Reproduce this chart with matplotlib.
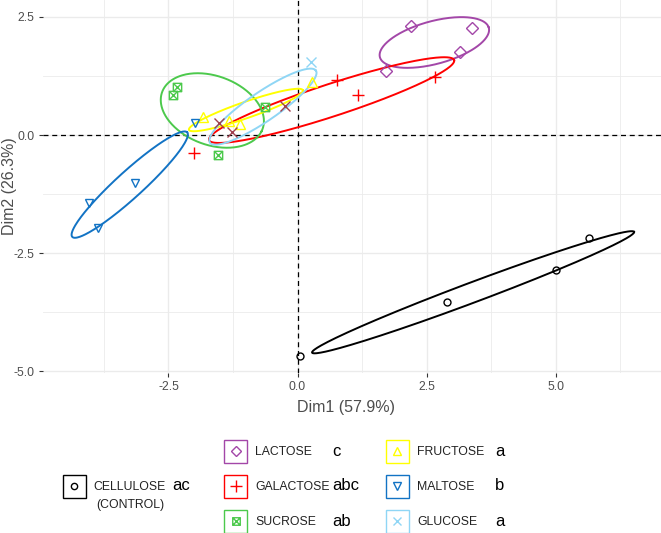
import numpy as np
import matplotlib.pyplot as plt
from matplotlib.patches import Rectangle
from matplotlib.path import Path

plt.rcParams["font.family"] = ["Liberation Sans", "DejaVu Sans"]
plt.rcParams["axes.unicode_minus"] = False

# groups and significance letters
groups  = ["CELLULOSE", "LACTOSE", "GALACTOSE", "SUCROSE", "FRUCTOSE", "MALTOSE", "GLUCOSE"]
letters = ["ac", "c", "abc", "ab", "a", "b", "a"]

# individual scores (Dim1, Dim2)
cellulose_x = [0.05, 2.90, 5.01, 5.65]
cellulose_y = [-4.68, -3.54, -2.86, -2.18]
lactose_x   = [2.20, 3.38, 3.15, 1.71]
lactose_y   = [2.31, 2.27, 1.76, 1.36]
galactose_x = [-2.01, 0.77, 1.17, 2.66]
galactose_y = [-0.38, 1.17, 0.85, 1.23]
sucrose_x   = [-2.34, -2.41, -1.54, -0.63]
sucrose_y   = [1.02, 0.85, -0.42, 0.59]
fructose_x  = [-1.83, -1.33, -1.11, 0.28]
fructose_y  = [0.38, 0.30, 0.23, 1.12]
maltose_x   = [-1.99, -3.15, -4.04, -3.87]
maltose_y   = [0.25, -1.02, -1.44, -1.97]
glucose_x   = [0.26, -0.24, -1.52, -1.27]
glucose_y   = [1.55, 0.61, 0.25, 0.06]

# confidence ellipses: centre, semi-axes, angle (deg) in data units
ell_cx  = [3.40, 2.65, 0.66, -1.65, -1.00, -3.25, -0.67]
ell_cy  = [-3.33, 1.96, 0.74, 0.52, 0.53, -1.05, 0.60]
ell_a   = [3.37, 1.10, 2.52, 1.05, 1.18, 1.57, 1.28]
ell_b   = [0.21, 0.45, 0.34, 0.72, 0.17, 0.27, 0.30]
ell_ang = [22.3, 17.0, 19.7, -25.0, 20.9, 45.0, 37.0]

xs = [cellulose_x, lactose_x, galactose_x, sucrose_x, fructose_x, maltose_x, glucose_x]
ys = [cellulose_y, lactose_y, galactose_y, sucrose_y, fructose_y, maltose_y, glucose_y]

colors = ["black", "#a347a8", "#ff0000", "#4cc94c", "#ffff00", "#1273c4", "#8fd6f5"]
glucose_pt_colors = ["#8fd6f5", "#a0404e", "#a0404e", "#a0404e"]

sq_cross = Path(
    [(-1, -1), (1, -1), (1, 1), (-1, 1), (-1, -1), (-1, -1), (1, 1), (-1, 1), (1, -1)],
    [Path.MOVETO, Path.LINETO, Path.LINETO, Path.LINETO, Path.CLOSEPOLY,
     Path.MOVETO, Path.LINETO, Path.MOVETO, Path.LINETO],
)
markers = ["o", "D", "+", sq_cross, "^", "v", "x"]
msizes  = [5, 6, 9, 6, 7, 6, 7]


def ellipse_xy(cx, cy, a, b, ang):
    t = np.linspace(0, 2 * np.pi, 300)
    th = np.deg2rad(ang)
    x = cx + a * np.cos(t) * np.cos(th) - b * np.sin(t) * np.sin(th)
    y = cy + a * np.cos(t) * np.sin(th) + b * np.sin(t) * np.cos(th)
    return x, y


fig = plt.figure(figsize=(6.61, 5.33), dpi=100)
W, H = 661, 533
ax = fig.add_axes([43 / W, 1 - 373 / H, (661 - 43) / W, 373 / H])

ax.set_xlim(-4.93, 7.04)
ax.set_ylim(-5.04, 2.86)
ax.set_xticks([-2.5, 0.0, 2.5, 5.0])
ax.set_yticks([-5.0, -2.5, 0.0, 2.5])
ax.set_xticks([-3.75, -1.25, 1.25, 3.75, 6.25], minor=True)
ax.set_yticks([-3.75, -1.25, 1.25], minor=True)
ax.grid(which="major", color="#ebebeb", lw=1.0)
ax.grid(which="minor", color="#ebebeb", lw=0.6)
ax.set_axisbelow(True)
for s in ax.spines.values():
    s.set_visible(False)
ax.tick_params(which="major", length=3, width=0.8, color="#333333",
               labelsize=8.8, labelcolor="#4d4d4d", pad=3)
ax.tick_params(which="minor", length=0)

ax.axhline(0, color="black", lw=0.9, dashes=(4, 3), zorder=1)
ax.axvline(0, color="black", lw=0.9, dashes=(4, 3), zorder=1)

for i in range(len(groups)):
    ex, ey = ellipse_xy(ell_cx[i], ell_cy[i], ell_a[i], ell_b[i], ell_ang[i])
    ax.plot(ex, ey, color=colors[i], lw=1.4, zorder=2)

for i in range(len(groups)):
    if groups[i] == "GLUCOSE":
        for x, y, c in zip(xs[i], ys[i], glucose_pt_colors):
            ax.plot(x, y, ls="none", marker=markers[i], ms=msizes[i], mew=1.0,
                    mfc="none", mec=c, zorder=3)
        continue
    ax.plot(xs[i], ys[i], ls="none", marker=markers[i], ms=msizes[i], mew=1.0,
            mfc="none", mec=colors[i], zorder=3)

ax.set_xlabel("Dim1 (57.9%)", fontsize=11.5, color="#4d4d4d")
ax.set_ylabel("Dim2 (26.3%)", fontsize=11.5, color="#4d4d4d")
ax.xaxis.set_label_coords((346 - 43) / 618, -(400 - 373) / 373)
ax.yaxis.set_label_coords(-(43 - 17) / 618, 0.5)

# legend drawn in pixel space
lax = fig.add_axes([0, 0, 1, 1])
lax.set_xlim(0, W)
lax.set_ylim(H, 0)
lax.axis("off")

box_x = [74, 235.5, 235.5, 235.5, 397, 397, 397]
row_y = [486, 451, 486, 521, 451, 486, 521]
text_x = [93, 255, 255, 255, 417, 417, 417]
let_x = [172, 332, 332, 332, 495, 495, 495]
for i in range(len(groups)):
    lax.add_patch(Rectangle((box_x[i] - 11.5, row_y[i] - 11.5), 23, 23,
                            fill=False, edgecolor=colors[i], lw=1.0))
    lax.plot(box_x[i], row_y[i], ls="none", marker=markers[i], ms=msizes[i] * 0.9,
             mew=1.0, mfc="none", mec=colors[i])
    lax.text(text_x[i], row_y[i] + 1, groups[i], fontsize=8.8, color="#222222",
             ha="left", va="center")
    lax.text(let_x[i], row_y[i], letters[i], fontsize=12, color="black",
             ha="left", va="center")
lax.text(96, 505, "(CONTROL)", fontsize=8.8, color="#222222", ha="left", va="center")

fig.savefig("out.png", dpi=100)
